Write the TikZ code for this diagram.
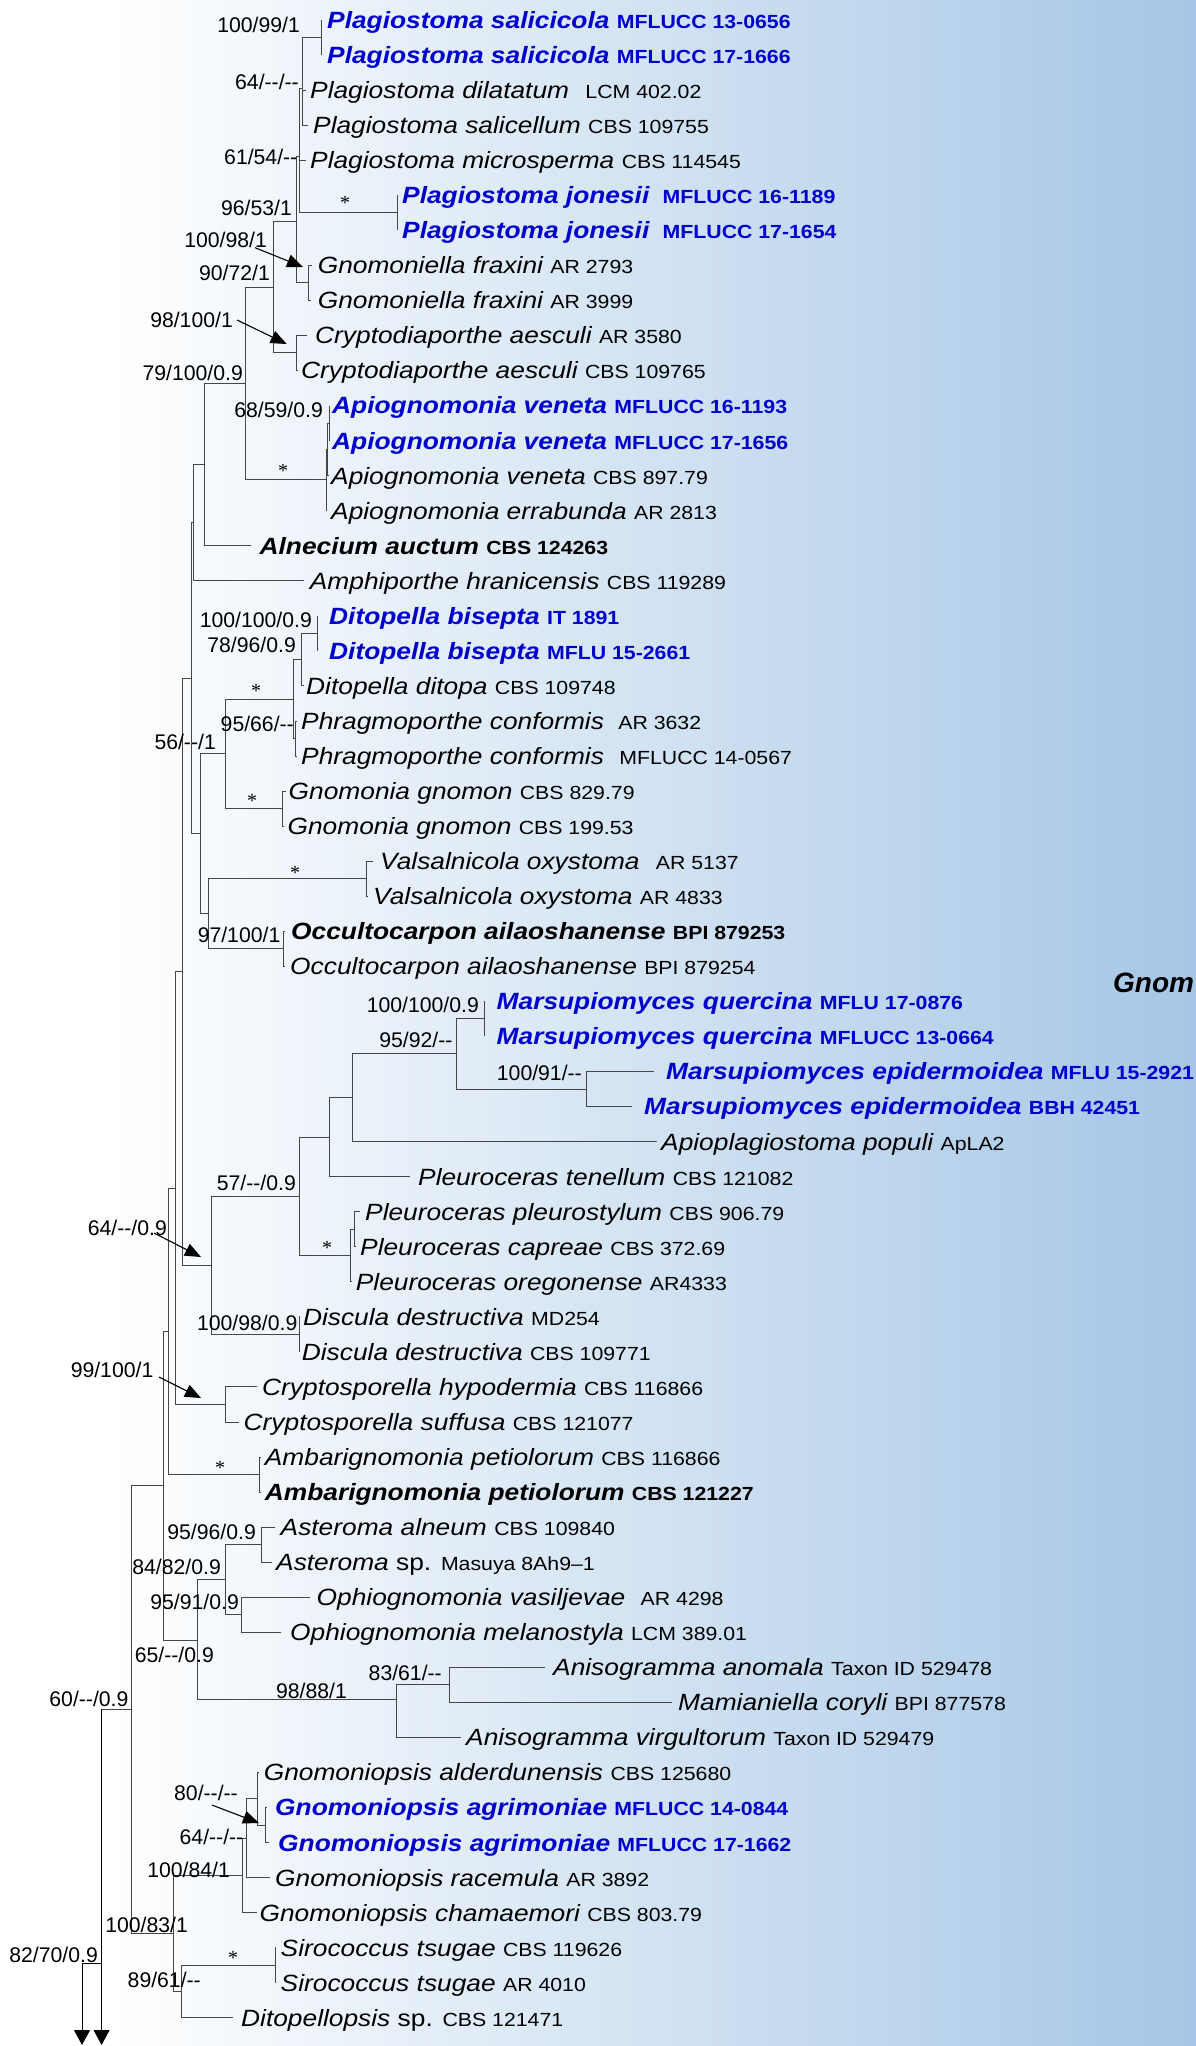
\documentclass[tikz,border=0pt]{standalone}
\usepackage{fontspec}
\setmainfont{Liberation Sans}[FakeStretch=1.12]
\newfontfamily\labfont{Liberation Sans}
\newfontfamily\astfont{Liberation Serif}
\usetikzlibrary{arrows.meta}

\definecolor{taxblue}{RGB}{0,0,205}
\definecolor{bgright}{RGB}{165,198,230}
\definecolor{branchgray}{RGB}{70,70,70}

% type sizes: species names, strain numbers
\newcommand\spn{\fontsize{23.5}{26}\selectfont}
\newcommand\stn{\fontsize{19}{22}\selectfont}
% taxon label forms: plain, new (blue bold), type (black bold)
\newcommand\txn[2]{{\itshape #1} {\stn #2}}
\newcommand\txb[2]{\color{taxblue}\bfseries{\itshape #1} {\stn #2}}
\newcommand\txk[2]{\bfseries{\itshape #1} {\stn #2}}

% leaf: id, branch end x, text x, row, label
\newcommand\tleaf[5]{%
  \coordinate (l#1) at (#2,{rowy(#4)});
  \node[taxon] (t#1) at (#3,{rowy(#4)}) {#5};}
% internal node: name, x, row
\newcommand\inode[3]{\coordinate (#1) at (#2,{rowy(#3)});}
% rectangular branches from a node to its children
\newcommand\kids[2]{\foreach \c in {#2}{\draw[br] (#1) |- (\c);}}
% support value: name, right end x, y, text
\newcommand\bsv[4]{\node[bsval] (#1) at (#2,#3) {#4};}

\begin{document}
\begin{tikzpicture}[x=1pt,y=-1pt,
  declare function={rowy(\i)=35.05*\i-15.05;},
  br/.style={draw=branchgray, line width=1pt},
  taxon/.style={anchor=west, inner sep=0pt, text height=16.8pt, text depth=0pt, font=\spn},
  bsval/.style={anchor=east, inner sep=0pt, text height=15pt, text depth=0pt,
    font=\labfont\fontsize{21.2}{23}\selectfont},
  ast/.style={inner sep=0pt, yshift=-3.3pt, font=\astfont\fontsize{20}{20}\selectfont},
  ptr/.style={draw=black, line width=1.1pt, -{Triangle[length=16pt,width=13pt]}},
  tail/.style={draw=black, line width=1pt, -{Triangle[length=15pt,width=16pt]}}]

\useasboundingbox (0,0) rectangle (1196,2046);
\clip (0,0) rectangle (1196,2046);

% background
\fill[white] (0,0) rectangle (1196,2046);
\shade[left color=white, right color=bgright] (110,0) rectangle (1196,2046);

% ---------- internal nodes ----------
\inode{nSal}{321}{1.5}
\inode{n64}{302.7}{2.94}
\inode{n61}{299}{4.9}
\inode{nJon}{397}{6.5}
\inode{n96}{296.7}{6.75}
\inode{nGf}{308}{8.5}
\inode{nCr}{296.7}{10.5}
\inode{n90}{273}{8.625}
\inode{nA1}{329}{12.5}
\inode{nA2}{327.5}{13.25}
\inode{nApio}{326}{14.1}
\inode{nX}{245}{11.36}
\inode{nY}{204}{13.68}
\inode{nZ}{193}{15.34}
\inode{nBis}{317}{18.5}
\inode{nB}{301.7}{19.25}
\inode{nPh}{295}{21.5}
\inode{nDP}{293}{20.375}
\inode{nGn}{282}{23.5}
\inode{nD}{225}{21.94}
\inode{nVal}{366}{25.5}
\inode{nOc}{283}{27.5}
\inode{nF}{208}{26.5}
\inode{nE}{200}{24.22}
\inode{nU}{191}{19.78}
\inode{nMq}{484}{29.5}
\inode{nMe}{586}{31.5}
\inode{nS}{456}{30.5}
\inode{nR}{352}{31.75}
\inode{nQ}{329}{32.875}
\inode{nPa}{354}{35.5}
\inode{nPl}{350}{36.25}
\inode{nM}{299}{34.56}
\inode{nDi}{299}{38.5}
\inode{nT}{211}{36.53}
\inode{nG}{182.7}{28.16}
\inode{nCs}{225}{40.5}
\inode{nY3}{175}{34.33}
\inode{nAm}{259}{42.5}
\inode{nY2}{168}{38.41}
\inode{nAs}{261}{44.5}
\inode{nOp}{241}{46.5}
\inode{nAO}{225}{45.5}
\inode{nAn1}{449}{48.5}
\inode{nAn}{396}{48.93}
\inode{nV}{197}{47.22}
\inode{nX2}{163}{42.8}
\inode{g1}{265}{52.5}
\inode{g2}{257}{51.75}
\inode{g3}{246}{52.875}
\inode{g4}{242}{53.94}
\inode{nSi}{275}{56.5}
\inode{n89}{181}{57.25}
\inode{g5}{173.6}{55.6}
\inode{nW}{131}{49.2}
\inode{nR0}{101.6}{49.2}

% ---------- leaves ----------
\tleaf{1}{321}{327}{1}{\txb{Plagiostoma salicicola}{MFLUCC 13-0656}}
\tleaf{2}{321}{327}{2}{\txb{Plagiostoma salicicola}{MFLUCC 17-1666}}
\tleaf{3}{306}{310}{3}{\txn{Plagiostoma dilatatum}{\hspace{9pt}LCM 402.02}}
\tleaf{4}{308}{313}{4}{\txn{Plagiostoma salicellum}{CBS 109755}}
\tleaf{5}{306}{310}{5}{\txn{Plagiostoma microsperma}{CBS 114545}}
\tleaf{6}{397}{402}{6}{\txb{Plagiostoma jonesii}{\hspace{6pt}MFLUCC 16-1189}}
\tleaf{7}{397}{402}{7}{\txb{Plagiostoma jonesii}{\hspace{6pt}MFLUCC 17-1654}}
\tleaf{8}{312}{317.6}{8}{\txn{Gnomoniella fraxini}{AR 2793}}
\tleaf{9}{311}{317.6}{9}{\txn{Gnomoniella fraxini}{AR 3999}}
\tleaf{10}{307}{315}{10}{\txn{Cryptodiaporthe aesculi}{AR 3580}}
\tleaf{11}{298}{301}{11}{\txn{Cryptodiaporthe aesculi}{CBS 109765}}
\tleaf{12}{329}{332}{12}{\txb{Apiognomonia veneta}{MFLUCC 16-1193}}
\tleaf{13}{329}{332}{13}{\txb{Apiognomonia veneta}{MFLUCC 17-1656}}
\tleaf{14}{328}{331}{14}{\txn{Apiognomonia veneta}{CBS 897.79}}
\tleaf{15}{327}{331}{15}{\txn{Apiognomonia errabunda}{AR 2813}}
\tleaf{16}{251.4}{259.4}{16}{\txk{Alnecium auctum}{CBS 124263}}
\tleaf{17}{304.4}{309.7}{17}{\txn{Amphiporthe hranicensis}{CBS 119289}}
\tleaf{18}{317}{329}{18}{\txb{Ditopella bisepta}{IT 1891}}
\tleaf{19}{317}{329}{19}{\txb{Ditopella bisepta}{MFLU 15-2661}}
\tleaf{20}{304}{306}{20}{\txn{Ditopella ditopa}{CBS 109748}}
\tleaf{21}{297}{301}{21}{\txn{Phragmoporthe conformis}{\hspace{7pt}AR 3632}}
\tleaf{22}{297}{301}{22}{\txn{Phragmoporthe conformis}{\hspace{8pt}MFLUCC 14-0567}}
\tleaf{23}{286}{288.5}{23}{\txn{Gnomonia gnomon}{CBS 829.79}}
\tleaf{24}{284}{287.4}{24}{\txn{Gnomonia gnomon}{CBS 199.53}}
\tleaf{25}{373}{380}{25}{\txn{Valsalnicola oxystoma}{\hspace{9pt}AR 5137}}
\tleaf{26}{368}{373}{26}{\txn{Valsalnicola oxystoma}{AR 4833}}
\tleaf{27}{285}{291}{27}{\txk{Occultocarpon ailaoshanense}{BPI 879253}}
\tleaf{28}{285}{290}{28}{\txn{Occultocarpon ailaoshanense}{BPI 879254}}
\tleaf{29}{484}{496.5}{29}{\txb{Marsupiomyces quercina}{MFLU 17-0876}}
\tleaf{30}{484}{496.5}{30}{\txb{Marsupiomyces quercina}{MFLUCC 13-0664}}
\tleaf{31}{654}{666}{31}{\txb{Marsupiomyces epidermoidea}{MFLU 15-2921}}
\tleaf{32}{631.5}{644}{32}{\txb{Marsupiomyces epidermoidea}{BBH 42451}}
\tleaf{33}{657}{661}{33}{\txn{Apioplagiostoma populi}{ApLA2}}
\tleaf{34}{410}{418}{34}{\txn{Pleuroceras tenellum}{CBS 121082}}
\tleaf{35}{360}{365}{35}{\txn{Pleuroceras pleurostylum}{CBS 906.79}}
\tleaf{36}{356}{360}{36}{\txn{Pleuroceras capreae}{CBS 372.69}}
\tleaf{37}{352}{355.7}{37}{\txn{Pleuroceras oregonense}{AR4333}}
\tleaf{38}{300}{302.8}{38}{\txn{Discula destructiva}{MD254}}
\tleaf{39}{300}{301.7}{39}{\txn{Discula destructiva}{CBS 109771}}
\tleaf{40}{257}{262}{40}{\txn{Cryptosporella hypodermia}{CBS 116866}}
\tleaf{41}{239}{243.5}{41}{\txn{Cryptosporella suffusa}{CBS 121077}}
\tleaf{42}{261}{264.7}{42}{\txn{Ambarignomonia petiolorum}{CBS 116866}}
\tleaf{43}{261}{264.7}{43}{\txk{Ambarignomonia petiolorum}{CBS 121227}}
\tleaf{44}{275}{280.5}{44}{\txn{Asteroma alneum}{CBS 109840}}
\tleaf{45}{272}{276}{45}{{\itshape Asteroma} sp. {\stn Masuya 8Ah9–1}}
\tleaf{46}{310}{316.5}{46}{\txn{Ophiognomonia vasiljevae}{\hspace{8pt}AR 4298}}
\tleaf{47}{280.5}{290}{47}{\txn{Ophiognomonia melanostyla}{LCM 389.01}}
\tleaf{48}{545}{553}{48}{\txn{Anisogramma anomala}{Taxon ID 529478}}
\tleaf{49}{672}{678}{49}{\txn{Mamianiella coryli}{BPI 877578}}
\tleaf{50}{460.5}{466}{50}{\txn{Anisogramma virgultorum}{Taxon ID 529479}}
\tleaf{51}{259}{263.6}{51}{\txn{Gnomoniopsis alderdunensis}{CBS 125680}}
\tleaf{52}{267}{275}{52}{\txb{Gnomoniopsis agrimoniae}{MFLUCC 14-0844}}
\tleaf{53}{269}{278}{53}{\txb{Gnomoniopsis agrimoniae}{MFLUCC 17-1662}}
\tleaf{54}{270}{275}{54}{\txn{Gnomoniopsis racemula}{AR 3892}}
\tleaf{55}{257}{259.4}{55}{\txn{Gnomoniopsis chamaemori}{CBS 803.79}}
\tleaf{56}{276}{280.5}{56}{\txn{Sirococcus tsugae}{CBS 119626}}
\tleaf{57}{276}{280.5}{57}{\txn{Sirococcus tsugae}{AR 4010}}
\tleaf{58}{233}{241}{58}{{\itshape Ditopellopsis} sp. {\stn CBS 121471}}

% ---------- branches ----------
\kids{nSal}{l1,l2}
\kids{n64}{nSal,l3,l4}
\kids{n61}{n64,l5,nJon}
\kids{nJon}{l6,l7}
\kids{n96}{n61,nGf}
\kids{nGf}{l8,l9}
\kids{nCr}{l10,l11}
\kids{n90}{n96,nCr}
\kids{nA1}{l12,l13}
\kids{nA2}{nA1,l14}
\kids{nApio}{nA2,l15}
\kids{nX}{n90,nApio}
\kids{nY}{nX,l16}
\kids{nZ}{nY,l17}
\kids{nBis}{l18,l19}
\kids{nB}{nBis,l20}
\kids{nPh}{l21,l22}
\kids{nDP}{nB,nPh}
\kids{nGn}{l23,l24}
\kids{nD}{nDP,nGn}
\kids{nVal}{l25,l26}
\kids{nOc}{l27,l28}
\kids{nF}{nVal,nOc}
\kids{nE}{nD,nF}
\kids{nU}{nZ,nE}
\kids{nMq}{l29,l30}
\kids{nMe}{l31,l32}
\kids{nS}{nMq,nMe}
\kids{nR}{nS,l33}
\kids{nQ}{nR,l34}
\kids{nPa}{l35,l36}
\kids{nPl}{nPa,l37}
\kids{nM}{nQ,nPl}
\kids{nDi}{l38,l39}
\kids{nT}{nM,nDi}
\kids{nG}{nU,nT}
\kids{nCs}{l40,l41}
\kids{nY3}{nG,nCs}
\kids{nAm}{l42,l43}
\kids{nY2}{nY3,nAm}
\kids{nAs}{l44,l45}
\kids{nOp}{l46,l47}
\kids{nAO}{nAs,nOp}
\kids{nAn1}{l48,l49}
\kids{nAn}{nAn1,l50}
\kids{nV}{nAO,nAn}
\kids{nX2}{nY2,nV}
\kids{g1}{l52,l53}
\kids{g2}{l51,g1}
\kids{g3}{g2,l54}
\kids{g4}{g3,l55}
\kids{nSi}{l56,l57}
\kids{n89}{nSi,l58}
\kids{g5}{g4,n89}
\kids{nW}{nX2,g5}
\kids{nR0}{nW}

% continuation of the tree below
\coordinate (k1) at (101.6,1963);
\coordinate (k2) at (82,1963);
\coordinate (e1) at (101.6,2045);
\coordinate (e2) at (82,2045);
\draw[tail] (nR0) -- (e1);
\draw[tail] (k1) -- (k2) -- (e2);

% ---------- support values ----------
\bsv{s1}{300}{25}{100/99/1}
\bsv{s2}{299}{82}{64/--/--}
\bsv{s3}{297.5}{157}{61/54/--}
\bsv{s4}{292}{208}{96/53/1}
\bsv{s5}{267}{240}{100/98/1}
\bsv{s6}{270}{273}{90/72/1}
\bsv{s7}{233}{320}{98/100/1}
\bsv{s8}{243}{373}{79/100/0.9}
\bsv{s9}{323}{410}{68/59/0.9}
\bsv{s10}{312}{620}{100/100/0.9}
\bsv{s11}{296}{645}{78/96/0.9}
\bsv{s12}{294}{724}{95/66/--}
\bsv{s13}{216}{742}{56/--/1}
\bsv{s14}{280.5}{935}{97/100/1}
\bsv{s15}{479}{1005}{100/100/0.9}
\bsv{s16}{452.6}{1040}{95/92/--}
\bsv{s17}{582}{1073}{100/91/--}
\bsv{s18}{296}{1183}{57/--/0.9}
\bsv{s19}{167}{1228}{64/--/0.9}
\bsv{s20}{297.5}{1323}{100/98/0.9}
\bsv{s21}{153.5}{1370}{99/100/1}
\bsv{s22}{256}{1532}{95/96/0.9}
\bsv{s23}{221}{1567}{84/82/0.9}
\bsv{s24}{239}{1602}{95/91/0.9}
\bsv{s25}{214}{1655}{65/--/0.9}
\bsv{s26}{442}{1673}{83/61/--}
\bsv{s27}{347}{1691}{98/88/1}
\bsv{s28}{128.6}{1699}{60/--/0.9}
\bsv{s29}{238}{1793}{80/--/--}
\bsv{s30}{243.5}{1837}{64/--/--}
\bsv{s31}{230}{1870}{100/84/1}
\bsv{s32}{188}{1925}{100/83/1}
\bsv{s33}{201}{1980}{89/61/--}
\bsv{s34}{98}{1955}{82/70/0.9}

% fully supported branches
\node[ast] (a1) at (345,200) {*};
\node[ast] (a2) at (283,468) {*};
\node[ast] (a3) at (256,688) {*};
\node[ast] (a4) at (252,798) {*};
\node[ast] (a5) at (295,870) {*};
\node[ast] (a6) at (327,1245) {*};
\node[ast] (a7) at (220,1465) {*};
\node[ast] (a8) at (233,1955) {*};

% pointers from support values to short internodes
\coordinate (p1) at (303,267);
\coordinate (p2) at (286.7,344);
\coordinate (p3) at (201,1257);
\coordinate (p4) at (201,1398);
\coordinate (p5) at (259,1823);
\draw[ptr] ([xshift=-12pt]s5.south east) -- (p1);
\draw[ptr] ([xshift=4pt]s7.east) -- (p2);
\draw[ptr] ([xshift=-13pt,yshift=-5pt]s19.east) -- (p3);
\draw[ptr] ([xshift=5.5pt,yshift=-7pt]s21.east) -- (p4);
\draw[ptr] ([xshift=-26pt,yshift=-12pt]s29.east) -- (p5);

% family name at the right margin
\node[anchor=west, inner sep=0pt, text height=20pt, text depth=0pt,
  font=\labfont\bfseries\itshape\fontsize{28}{30}\selectfont] (fam) at (1113,982) {Gnom};
\end{tikzpicture}
\end{document}
